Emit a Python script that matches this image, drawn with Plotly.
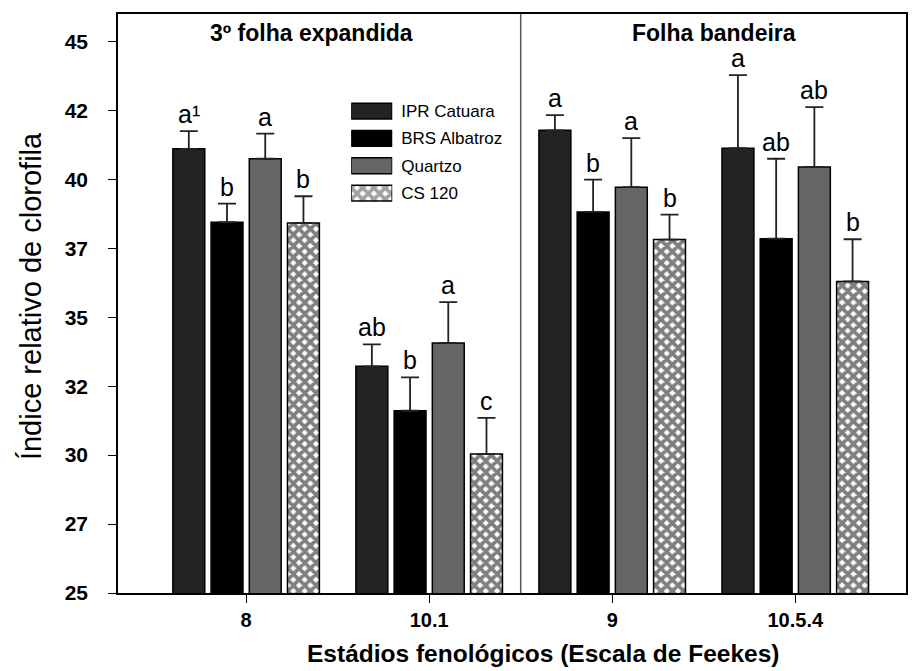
import plotly.graph_objects as go

# Phenological stages (Feekes scale)
stages = ["8", "10.1", "9", "10.5.4"]
cultivars = ["IPR Catuara", "BRS Albatroz", "Quartzo", "CS 120"]

# Relative chlorophyll index (means) per cultivar, one value per stage
ipr_catuara = [41.11, 33.22, 41.78, 41.13]
brs_albatroz = [38.45, 31.61, 38.82, 37.85]
quartzo = [40.75, 34.07, 39.72, 40.45]
cs_120 = [38.42, 30.04, 37.82, 36.30]

# Standard deviations (upper bars only)
ipr_catuara_err = [0.64, 0.80, 0.55, 2.65]
brs_albatroz_err = [0.67, 1.21, 1.17, 2.90]
quartzo_err = [0.91, 1.48, 1.78, 2.17]
cs_120_err = [0.97, 1.31, 0.90, 1.53]

# Mean-separation letters
ipr_catuara_lbl = ["a\u00b9", "ab", "a", "a"]
brs_albatroz_lbl = ["b", "b", "b", "ab"]
quartzo_lbl = ["a", "a", "a", "ab"]
cs_120_lbl = ["b", "c", "b", "b"]

# Leaf sections: first two stages on the 3rd expanded leaf, last two on the flag leaf
sections = ["3º folha expandida", "Folha bandeira"]

y_ticks = [25, 27.5, 30, 32.5, 35, 37.5, 40, 42.5, 45]
y_ticktext = ["25", "27", "30", "32", "35", "37", "40", "42", "45"]

means = [ipr_catuara, brs_albatroz, quartzo, cs_120]
errs = [ipr_catuara_err, brs_albatroz_err, quartzo_err, cs_120_err]
labels = [ipr_catuara_lbl, brs_albatroz_lbl, quartzo_lbl, cs_120_lbl]
fills = ["#232323", "#000000", "#666666", "#ffffff"]
patterns = ["", "", "", "x"]

BARGAP = 0.165
GROUPGAP = 0.165
X_RANGE = [-0.70, 3.605]
Y_RANGE = [25, 46.0]
FONT = "Liberation Sans, Arial, sans-serif"
PATTERN = dict(fgcolor="#000000", bgcolor="#ffffff", size=8, solidity=0.72)

fig = go.Figure()

for name, m, e, fill, pat in zip(cultivars, means, errs, fills, patterns):
    fig.add_trace(go.Bar(
        x=stages, y=m, name=name, showlegend=False,
        marker=dict(color=fill, line=dict(color="#000000", width=1.5),
                    pattern=dict(shape=pat, **PATTERN)),
        error_y=dict(type="data", array=e, arrayminus=[0] * len(e), symmetric=False,
                     color="#222222", thickness=1.8, width=9),
    ))

# Letters above each error bar, centred on its bar within the group
slot = (1 - BARGAP) / len(cultivars)
annotations = []
for i, (m, e, lab) in enumerate(zip(means, errs, labels)):
    off = (i - (len(cultivars) - 1) / 2) * slot
    for j in range(len(stages)):
        annotations.append(dict(
            x=j + off, y=m[j] + e[j], xref="x", yref="y", text=lab[j],
            showarrow=False, yanchor="bottom", xanchor="center", yshift=1,
            font=dict(family=FONT, size=25, color="#000000"),
        ))

# Section headings above each half of the plot
split = (len(stages) - 1) / 2
for txt, px in zip(sections, [0.245, 0.756]):
    annotations.append(dict(
        x=px, y=0.967, xref="paper", yref="paper", text=txt, showarrow=False,
        xanchor="center", yanchor="middle",
        font=dict(family=FONT, size=23, color="#000000", weight="bold"),
    ))

# Axis titles
annotations.append(dict(
    x=-0.111, y=0.512, xref="paper", yref="paper", text="Índice relativo de clorofila",
    showarrow=False, textangle=-90, xanchor="center", yanchor="middle",
    font=dict(family=FONT, size=29, color="#000000"),
))
annotations.append(dict(
    x=0.539, y=-0.104, xref="paper", yref="paper",
    text="Estádios fenológicos (Escala de Feekes)", showarrow=False,
    xanchor="center", yanchor="middle",
    font=dict(family=FONT, size=24.5, color="#000000", weight="bold"),
))

# Legend drawn as a small horizontal bar chart on its own axes
fig.add_trace(go.Bar(
    x=[1] * len(cultivars), y=cultivars, orientation="h", base=0, width=0.58,
    xaxis="x2", yaxis="y2", showlegend=False, hoverinfo="skip",
    marker=dict(color=fills, line=dict(color="#000000", width=1.5),
                pattern=dict(shape=patterns, **PATTERN)),
))

fig.update_layout(
    width=912, height=671,
    margin=dict(l=118, r=4, t=14, b=78),
    paper_bgcolor="#ffffff", plot_bgcolor="#ffffff",
    barmode="group", bargap=BARGAP, bargroupgap=GROUPGAP,
    showlegend=False,
    annotations=annotations,
    shapes=[dict(type="line", xref="x", yref="paper", x0=split, x1=split, y0=0, y1=1,
                 line=dict(color="#555555", width=1.5))],
    xaxis=dict(
        type="category", range=X_RANGE, showgrid=False, zeroline=False,
        showline=True, linecolor="#000000", linewidth=1.5, mirror=True,
        ticks="outside", ticklen=8, tickwidth=1.2, tickcolor="#000000",
        tickfont=dict(family=FONT, size=20, color="#000000", weight="bold"),
    ),
    yaxis=dict(
        range=Y_RANGE, tickvals=y_ticks, ticktext=y_ticktext,
        showgrid=False, zeroline=False,
        showline=True, linecolor="#000000", linewidth=1.5, mirror=True,
        ticks="outside", ticklen=8, tickwidth=1.2, tickcolor="#000000",
        ticklabelstandoff=16,
        tickfont=dict(family=FONT, size=21, color="#000000", weight="bold"),
    ),
    xaxis2=dict(domain=[0.296, 0.348], range=[0, 1], anchor="y2", visible=False,
                fixedrange=True),
    yaxis2=dict(domain=[0.667, 0.856], anchor="x2", side="right", autorange="reversed",
                showgrid=False, zeroline=False, showline=False, ticks="",
                ticklabelstandoff=8,
                tickfont=dict(family=FONT, size=17, color="#000000")),
)

fig.write_html("out.html")
